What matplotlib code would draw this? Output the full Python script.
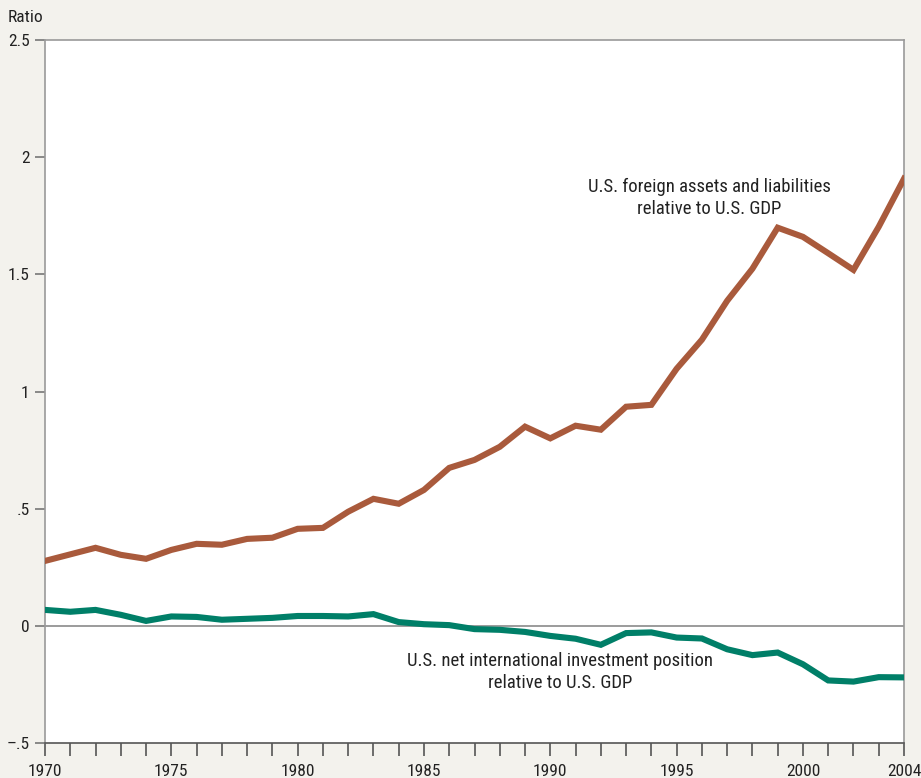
import matplotlib
matplotlib.use("Agg")
import matplotlib.pyplot as plt
from matplotlib import font_manager

years = list(range(1970, 2005))
assets_liabilities = [0.277, 0.305, 0.333, 0.303, 0.286, 0.324, 0.350, 0.346, 0.371, 0.376,
                      0.414, 0.418, 0.487, 0.542, 0.521, 0.580, 0.674, 0.708, 0.764, 0.850,
                      0.800, 0.854, 0.837, 0.935, 0.943, 1.097, 1.221, 1.387, 1.524, 1.699,
                      1.660, 1.590, 1.519, 1.703, 1.908]
net_position = [0.068, 0.060, 0.068, 0.047, 0.021, 0.040, 0.038, 0.026, 0.030, 0.034,
                0.042, 0.042, 0.040, 0.050, 0.016, 0.007, 0.003, -0.014, -0.017, -0.026,
                -0.043, -0.055, -0.081, -0.031, -0.028, -0.050, -0.054, -0.100, -0.125, -0.114,
                -0.164, -0.233, -0.238, -0.219, -0.220]
ytick_vals = [-0.5, 0, 0.5, 1, 1.5, 2, 2.5]
ytick_labels = ["\u2013.5", "0", ".5", "1", "1.5", "2", "2.5"]
xtick_vals = [1970, 1975, 1980, 1985, 1990, 1995, 2000, 2004]

names = {f.name for f in font_manager.fontManager.ttflist}
fams = [f for f in ["Liberation Sans Narrow", "Roboto Condensed", "Open Sans Condensed",
                    "Liberation Sans"] if f in names]
plt.rcParams['font.family'] = fams + ['DejaVu Sans']
narrow = fams[0] in ("Liberation Sans Narrow", "Roboto Condensed", "Open Sans Condensed") if fams else False

bg = "#f3f2ed"
fig = plt.figure(figsize=(9.21, 7.78), dpi=100, facecolor=bg)
ax = fig.add_axes([45/921, 35/778, 859/921, 703/778])
ax.set_facecolor("white")

red = "#a95a3c"
green = "#007f68"
ax.axhline(0, color="#8a8a8a", lw=1.2, zorder=1)
ax.plot(years, assets_liabilities, color=red, lw=4.4, solid_joinstyle="miter", zorder=3)
ax.plot(years, net_position, color=green, lw=4.4, solid_joinstyle="miter", zorder=3)

ax.set_xlim(1970, 2004)
ax.set_ylim(-0.5, 2.5)
ax.set_yticks(ytick_vals)
ax.set_yticklabels(ytick_labels)
ax.set_xticks(years, minor=True)
ax.set_xticks(xtick_vals)
ax.set_xticklabels([str(v) for v in xtick_vals])

tsize = 12.5 if narrow else 11
asize = 13.5 if narrow else 12
ax.tick_params(axis="y", direction="out", length=7, width=1.2, color="#777777",
               labelsize=tsize, pad=4, labelcolor="#222222")
ax.tick_params(axis="x", which="both", direction="out", length=9, width=1.2,
               color="#555555", labelsize=tsize, pad=6, labelcolor="#222222")

for s in ["top", "right", "left"]:
    ax.spines[s].set_color("#9a9a9a")
    ax.spines[s].set_linewidth(1.2)
ax.spines["bottom"].set_color("#555555")
ax.spines["bottom"].set_linewidth(1.2)

fig.text(8/921, 1 - 17/778, "Ratio", fontsize=tsize, color="#222222", va="center", ha="left")

ax.text(1996.3, 1.827, "U.S. foreign assets and liabilities\nrelative to U.S. GDP",
        ha="center", va="center", fontsize=asize, color="#222222", linespacing=1.3)
ax.text(1990.4, -0.198, "U.S. net international investment position\nrelative to U.S. GDP",
        ha="center", va="center", fontsize=asize, color="#222222", linespacing=1.3)

fig.savefig("out.png", dpi=100, facecolor=bg)
